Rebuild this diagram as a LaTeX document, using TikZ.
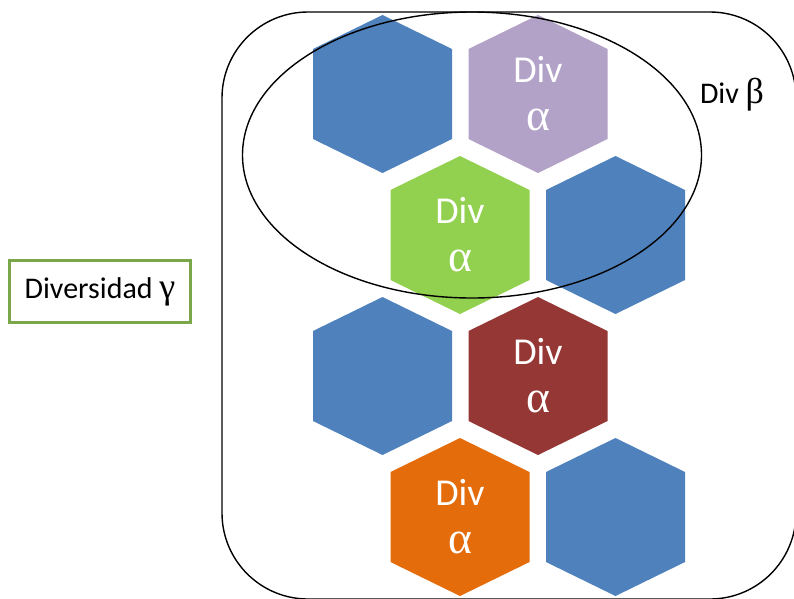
\documentclass[tikz,border=0pt]{standalone}
\usepackage{fontspec}
\setmainfont{Carlito}
\newfontfamily\grk[Scale=1.2]{Liberation Serif}

\definecolor{hexblue}{HTML}{4F81BD}
\definecolor{hexlilac}{HTML}{B3A2C7}
\definecolor{hexgreen}{HTML}{92D050}
\definecolor{hexred}{HTML}{953735}
\definecolor{hexorange}{HTML}{E46C0A}
\definecolor{boxgreen}{HTML}{79A74A}

% hexagon cell: name, centre, colour, text
\newcommand{\hexcell}[4]{%
  \fill[#3] (#2) ++(0,-79) -- ++(69.5,34) -- ++(0,90) -- ++(-69.5,34) -- ++(-69.5,-34) -- ++(0,-90) -- cycle;
  \node[hexlabel] (#1) at (#2) {#4};
}

\begin{document}
\begin{tikzpicture}[x=1pt, y=-1pt,
    hexlabel/.style={text=white, align=center, inner sep=0pt, font=\fontsize{38}{48}\selectfont},
    outline/.style={draw=black, line width=1.4pt}]
    \useasboundingbox (0,0) rectangle (794,598);

    % Gamma region
    \draw[outline, rounded corners=86pt] (222,12) rectangle (796,599);

    % Hexagons
    \hexcell{h1}{382.5,94}{hexblue}{}
    \hexcell{h2}{538,94}{hexlilac}{Div\\{\grk α}}
    \hexcell{h3}{460,235}{hexgreen}{Div\\{\grk α}}
    \hexcell{h4}{615.5,235}{hexblue}{}
    \hexcell{h5}{382.5,376}{hexblue}{}
    \hexcell{h6}{538,376}{hexred}{Div\\{\grk α}}
    \hexcell{h7}{460,517}{hexorange}{Div\\{\grk α}}
    \hexcell{h8}{615.5,517}{hexblue}{}

    % Beta region
    \draw[outline] (472,155) ellipse [x radius=229.5, y radius=143];

    % Labels
    \node[anchor=base, font=\fontsize{30}{34}\selectfont] (divbeta) at (732,103) {Div {\grk β}};
    \node[draw=boxgreen, line width=2.5pt, minimum width=181pt, minimum height=62pt,
          inner sep=0pt, font=\fontsize{30}{34}\selectfont] (gamma) at (100,291.5) {Diversidad {\grk γ}};
\end{tikzpicture}
\end{document}
